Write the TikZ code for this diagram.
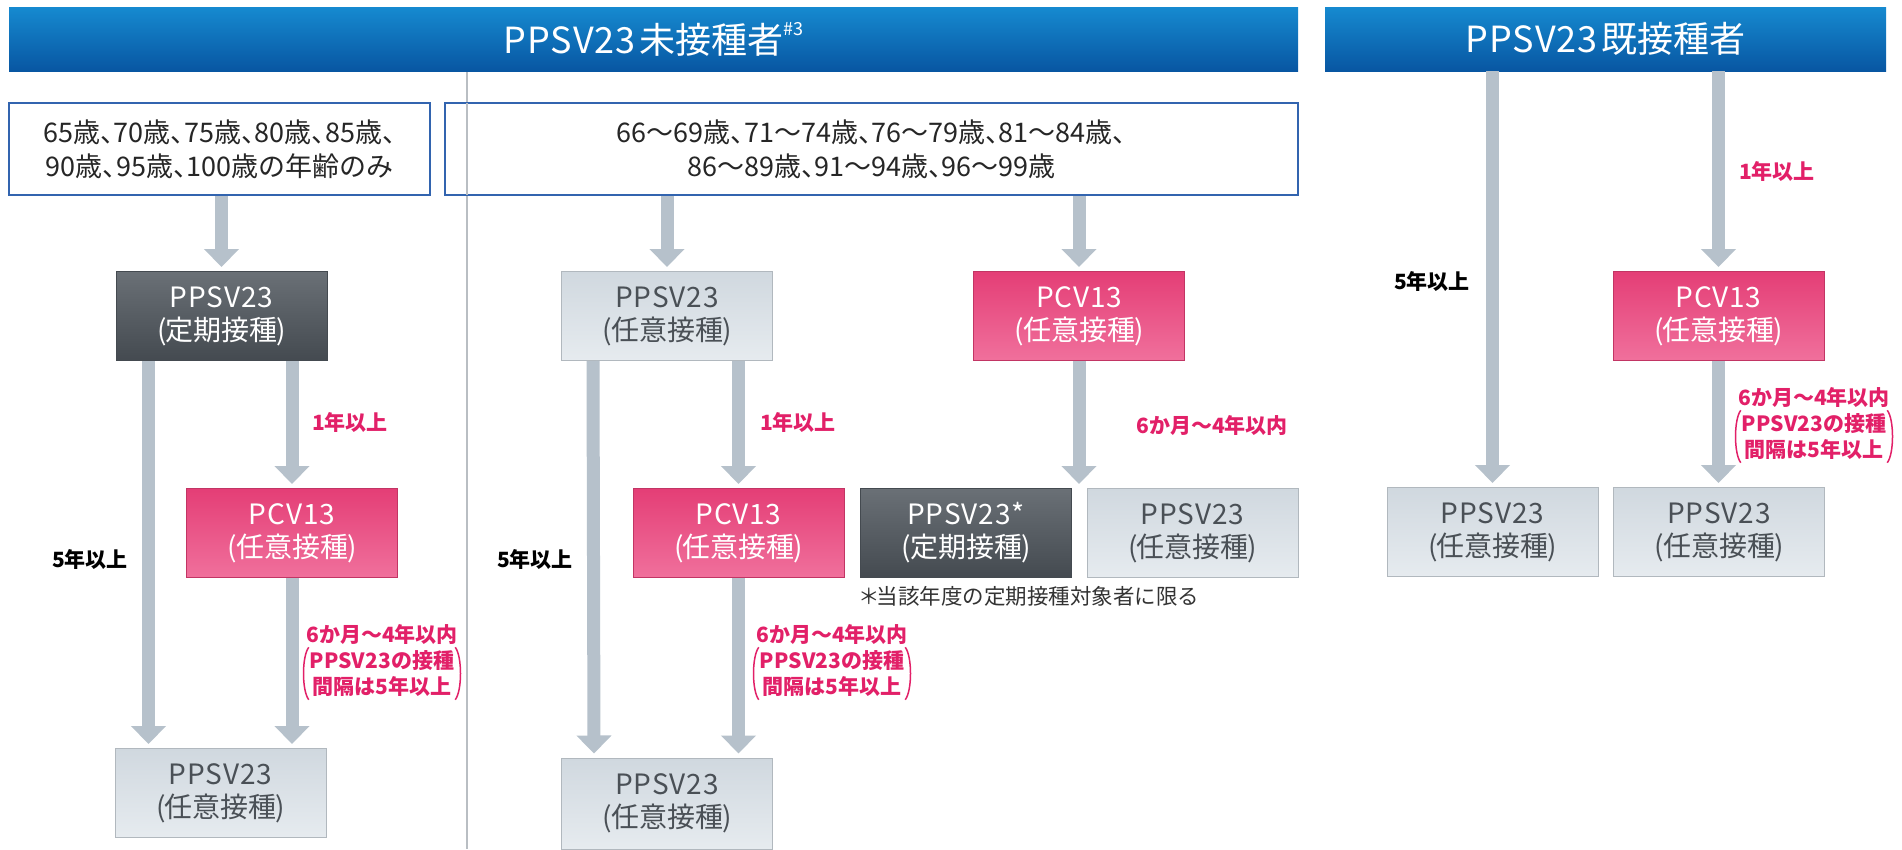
\documentclass[tikz,border=0pt]{standalone}
\usepackage{fontspec}
\setmainfont{Noto Sans CJK JP}
\newfontfamily\latfont[LetterSpace=3]{Noto Sans CJK JP}
\newfontfamily\agefont[RawFeature=+halt]{Noto Sans CJK JP}
\usetikzlibrary{arrows.meta,calc}
\definecolor{hdrTop}{RGB}{22,138,208}
\definecolor{hdrBot}{RGB}{8,86,162}
\definecolor{arrowc}{RGB}{182,193,203}
\definecolor{darkTop}{RGB}{106,112,118}
\definecolor{darkBot}{RGB}{68,74,80}
\definecolor{pinkTop}{RGB}{228,62,118}
\definecolor{pinkBot}{RGB}{240,112,156}
\definecolor{lightTop}{RGB}{208,216,223}
\definecolor{lightBot}{RGB}{230,235,239}
\definecolor{lightText}{RGB}{74,80,86}
\definecolor{pinkText}{RGB}{226,32,104}
\definecolor{boxBlue}{RGB}{50,100,175}
\definecolor{seamc}{RGB}{185,190,195}
\tikzset{
  boxbase/.style={minimum width=211pt, minimum height=89pt, inner sep=0pt, align=center,
    font=\fontsize{28}{33}\selectfont},
  darkbox/.style={boxbase, top color=darkTop, bottom color=darkBot, draw=darkBot, line width=1pt, text=white},
  pinkbox/.style={boxbase, top color=pinkTop, bottom color=pinkBot, draw=pinkTop!85!black, line width=1pt, text=white},
  lightbox/.style={boxbase, top color=lightTop, bottom color=lightBot, draw=lightTop!85!black, line width=1pt, text=lightText},
  agebox/.style={draw=boxBlue, line width=1.5pt, fill=white, inner sep=0pt, align=center,
    font=\agefont\fontsize{27}{34}\selectfont, text=black!85},
  header/.style={top color=hdrTop, bottom color=hdrBot, inner sep=0pt, text=white,
    minimum height=64pt, font=\fontsize{36}{40}\selectfont},
  bigarrow/.style={line width=13pt, draw=arrowc, -{Triangle[width=34pt,length=18pt]}, shorten >=4pt},
  pinklabel/.style={text=pinkText, font=\bfseries\fontsize{21}{26}\selectfont, inner sep=0pt, align=center},
  blacklabel/.style={text=black, font=\bfseries\fontsize{21}{26}\selectfont, inner sep=0pt},
  notetext/.style={text=black!80, font=\fontsize{21.5}{26}\selectfont, inner sep=0pt, anchor=west},
  parenline/.style={draw=pinkText, line width=1.5pt},
}
\newcommand\myBoxTxt[2]{{\latfont #1}\\(\kern-1pt #2\kern-1pt)}
\newcommand\myIvNote[2]{%
  \node[pinklabel] (#1a) at #2 {6か月〜4年以内};
  \node[pinklabel] (#1b) at ($#2+(0,39.5)$) {PPSV23の接種\\間隔は5年以上};
  \draw[parenline] ([xshift=-1pt,yshift=3pt]#1b.north west) .. controls ([xshift=-8pt,yshift=-6pt]#1b.north west) and ([xshift=-8pt,yshift=6pt]#1b.south west) .. ([xshift=-1pt,yshift=-3pt]#1b.south west);
  \draw[parenline] ([xshift=1pt,yshift=3pt]#1b.north east) .. controls ([xshift=8pt,yshift=-6pt]#1b.north east) and ([xshift=8pt,yshift=6pt]#1b.south east) .. ([xshift=1pt,yshift=-3pt]#1b.south east);
}
\begin{document}
\begin{tikzpicture}[x=1pt,y=-1pt]
\useasboundingbox[fill=white] (0,0) rectangle (1902,849);
% fold seam
\draw[seamc, line width=1.2pt] (467,72) -- (467,849);
% headers
\node[header, minimum width=1289pt] (hdrL) at (653.5,39) {{\latfont PPSV23}\hspace{4pt}未接種者\raisebox{0.5em}{\fontsize{18}{18}\selectfont\#3}};
\node[header, minimum width=561pt] (hdrR) at (1605.5,39) {{\latfont PPSV23}\hspace{4pt}既接種者};
% age boxes
\node[agebox, minimum width=421pt, minimum height=92pt] (A1) at (219.5,149) {65歳、70歳、75歳、80歳、85歳、\\90歳、95歳、100歳の年齢のみ};
\node[agebox, minimum width=853pt, minimum height=92pt] (B1) at (871.5,149) {66〜69歳、71〜74歳、76〜79歳、81〜84歳、\\86〜89歳、91〜94歳、96〜99歳};
% redraw seam over the wide age box
\draw[seamc, line width=1.2pt] (467,103) -- (467,195);
% column A
\node[darkbox]  (A2) at (221.5,316) {\myBoxTxt{PPSV23}{定期接種}};
\node[pinkbox]  (A3) at (292,533)   {\myBoxTxt{PCV13}{任意接種}};
\node[lightbox] (A4) at (220.5,793) {\myBoxTxt{PPSV23}{任意接種}};
% column B
\node[lightbox] (B2) at (667,316)   {\myBoxTxt{PPSV23}{任意接種}};
\node[pinkbox]  (B3) at (738.5,533) {\myBoxTxt{PCV13}{任意接種}};
\node[lightbox, minimum height=91pt] (B4) at (667,803.5) {\myBoxTxt{PPSV23}{任意接種}};
% column C
\node[pinkbox]  (C2) at (1079,316)  {\myBoxTxt{PCV13}{任意接種}};
\node[darkbox]  (C3) at (966,533)   {\myBoxTxt{PPSV23*}{定期接種}};
\node[lightbox] (C4) at (1192.5,533) {\myBoxTxt{PPSV23}{任意接種}};
\node[notetext] (fn) at (858,596) {＊\kern-3pt 当該年度の定期接種対象者に限る};
% column D
\node[pinkbox]  (D2) at (1718.5,316) {\myBoxTxt{PCV13}{任意接種}};
\node[lightbox] (D3) at (1492.5,532) {\myBoxTxt{PPSV23}{任意接種}};
\node[lightbox] (D4) at (1719,532)  {\myBoxTxt{PPSV23}{任意接種}};
% arrows
\draw[bigarrow] (A1.south -| A2.north) -- (A2.north);
\draw[bigarrow] ([xshift=33pt]A2.south west) -- ([xshift=34pt]A4.north west);
\draw[bigarrow] (A2.south -| A3.north) -- (A3.north);
\draw[bigarrow] (A3.south) -- (A3.south |- A4.north);
\draw[bigarrow] (B1.south -| B2.north) -- (B2.north);
\draw[bigarrow] ([xshift=32pt]B2.south west) -- ([xshift=33pt]B4.north west);
\draw[bigarrow] (B2.south -| B3.north) -- (B3.north);
\draw[bigarrow] (B3.south) -- (B3.south |- B4.north);
\draw[bigarrow] (B1.south -| C2.north) -- (C2.north);
\draw[bigarrow] (C2.south) -- (C2.south |- C3.north);
\draw[bigarrow] (hdrR.south -| D3.north) -- (D3.north);
\draw[bigarrow] (hdrR.south -| D2.north) -- (D2.north);
\draw[bigarrow] (D2.south) -- (D2.south |- D4.north);
% labels
\node[blacklabel] (lA5) at (90,559) {5年以上};
\node[pinklabel]  (lA1) at (350,422) {1年以上};
\myIvNote{nA}{(382,634)}
\node[blacklabel] (lB5) at (535,559) {5年以上};
\node[pinklabel]  (lB1) at (798,422) {1年以上};
\myIvNote{nB}{(832,634)}
\node[pinklabel]  (lC6) at (1212,425) {6か月〜4年以内};
\node[blacklabel] (lD5) at (1432,281) {5年以上};
\node[pinklabel]  (lD1) at (1777,171) {1年以上};
\myIvNote{nD}{(1814,397)}
\end{tikzpicture}
\end{document}
